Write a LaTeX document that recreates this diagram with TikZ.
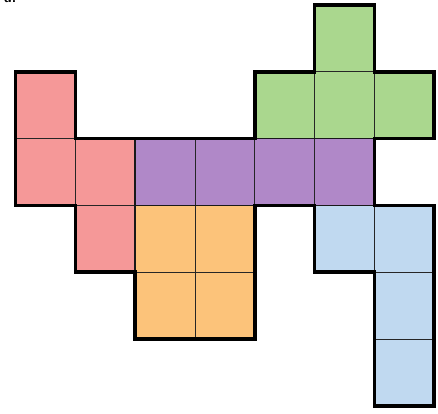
\documentclass[tikz,border=0pt]{standalone}
\definecolor{cred}{RGB}{245,152,152}
\definecolor{cpurple}{RGB}{176,136,200}
\definecolor{cgreen}{RGB}{170,215,142}
\definecolor{corange}{RGB}{252,195,122}
\definecolor{cblue}{RGB}{192,217,240}
\tikzset{
  cellline/.style={line width=0.8pt, draw=black!85},
  pieceline/.style={line width=1.6pt, draw=black!90},
  outline/.style={line width=3.6pt, draw=black, line join=miter},
}
\begin{document}
\begin{tikzpicture}[x=1pt,y=1pt]
\useasboundingbox (0,0) rectangle (438,-413);
\node[anchor=base west, font=\sffamily\bfseries\Large, inner sep=0pt] (lbl) at (4,-2.5) {a.};
\begin{scope}[shift={(15.5,-5)}, x=59.8pt, y=-66.8pt]
  % red
  \foreach \c/\r in {0/1,0/2,1/2,1/3} {\fill[cred] (\c,\r) rectangle ++(1,1); \draw[cellline] (\c,\r) rectangle ++(1,1);}
  % purple
  \foreach \c/\r in {2/2,3/2,4/2,5/2} {\fill[cpurple] (\c,\r) rectangle ++(1,1); \draw[cellline] (\c,\r) rectangle ++(1,1);}
  % green
  \foreach \c/\r in {5/0,4/1,5/1,6/1} {\fill[cgreen] (\c,\r) rectangle ++(1,1); \draw[cellline] (\c,\r) rectangle ++(1,1);}
  % orange
  \foreach \c/\r in {2/3,3/3,2/4,3/4} {\fill[corange] (\c,\r) rectangle ++(1,1); \draw[cellline] (\c,\r) rectangle ++(1,1);}
  % blue
  \foreach \c/\r in {5/3,6/3,6/4,6/5} {\fill[cblue] (\c,\r) rectangle ++(1,1); \draw[cellline] (\c,\r) rectangle ++(1,1);}
  % piece boundaries
  \draw[pieceline] (2,2) -- (2,4);
  \draw[pieceline] (2,3) -- (4,3);
  \draw[pieceline] (4,2) -- (6,2);
  \draw[pieceline] (5,3) -- (6,3);
  % outline
  \draw[outline] (0,1) -- (1,1) -- (1,2) -- (4,2) -- (4,1) -- (5,1) -- (5,0) -- (6,0) -- (6,1) -- (7,1) -- (7,2) -- (6,2) -- (6,3) -- (7,3) -- (7,6) -- (6,6) -- (6,4) -- (5,4) -- (5,3) -- (4,3) -- (4,5) -- (2,5) -- (2,4) -- (1,4) -- (1,3) -- (0,3) -- cycle;
\end{scope}
\end{tikzpicture}
\end{document}
